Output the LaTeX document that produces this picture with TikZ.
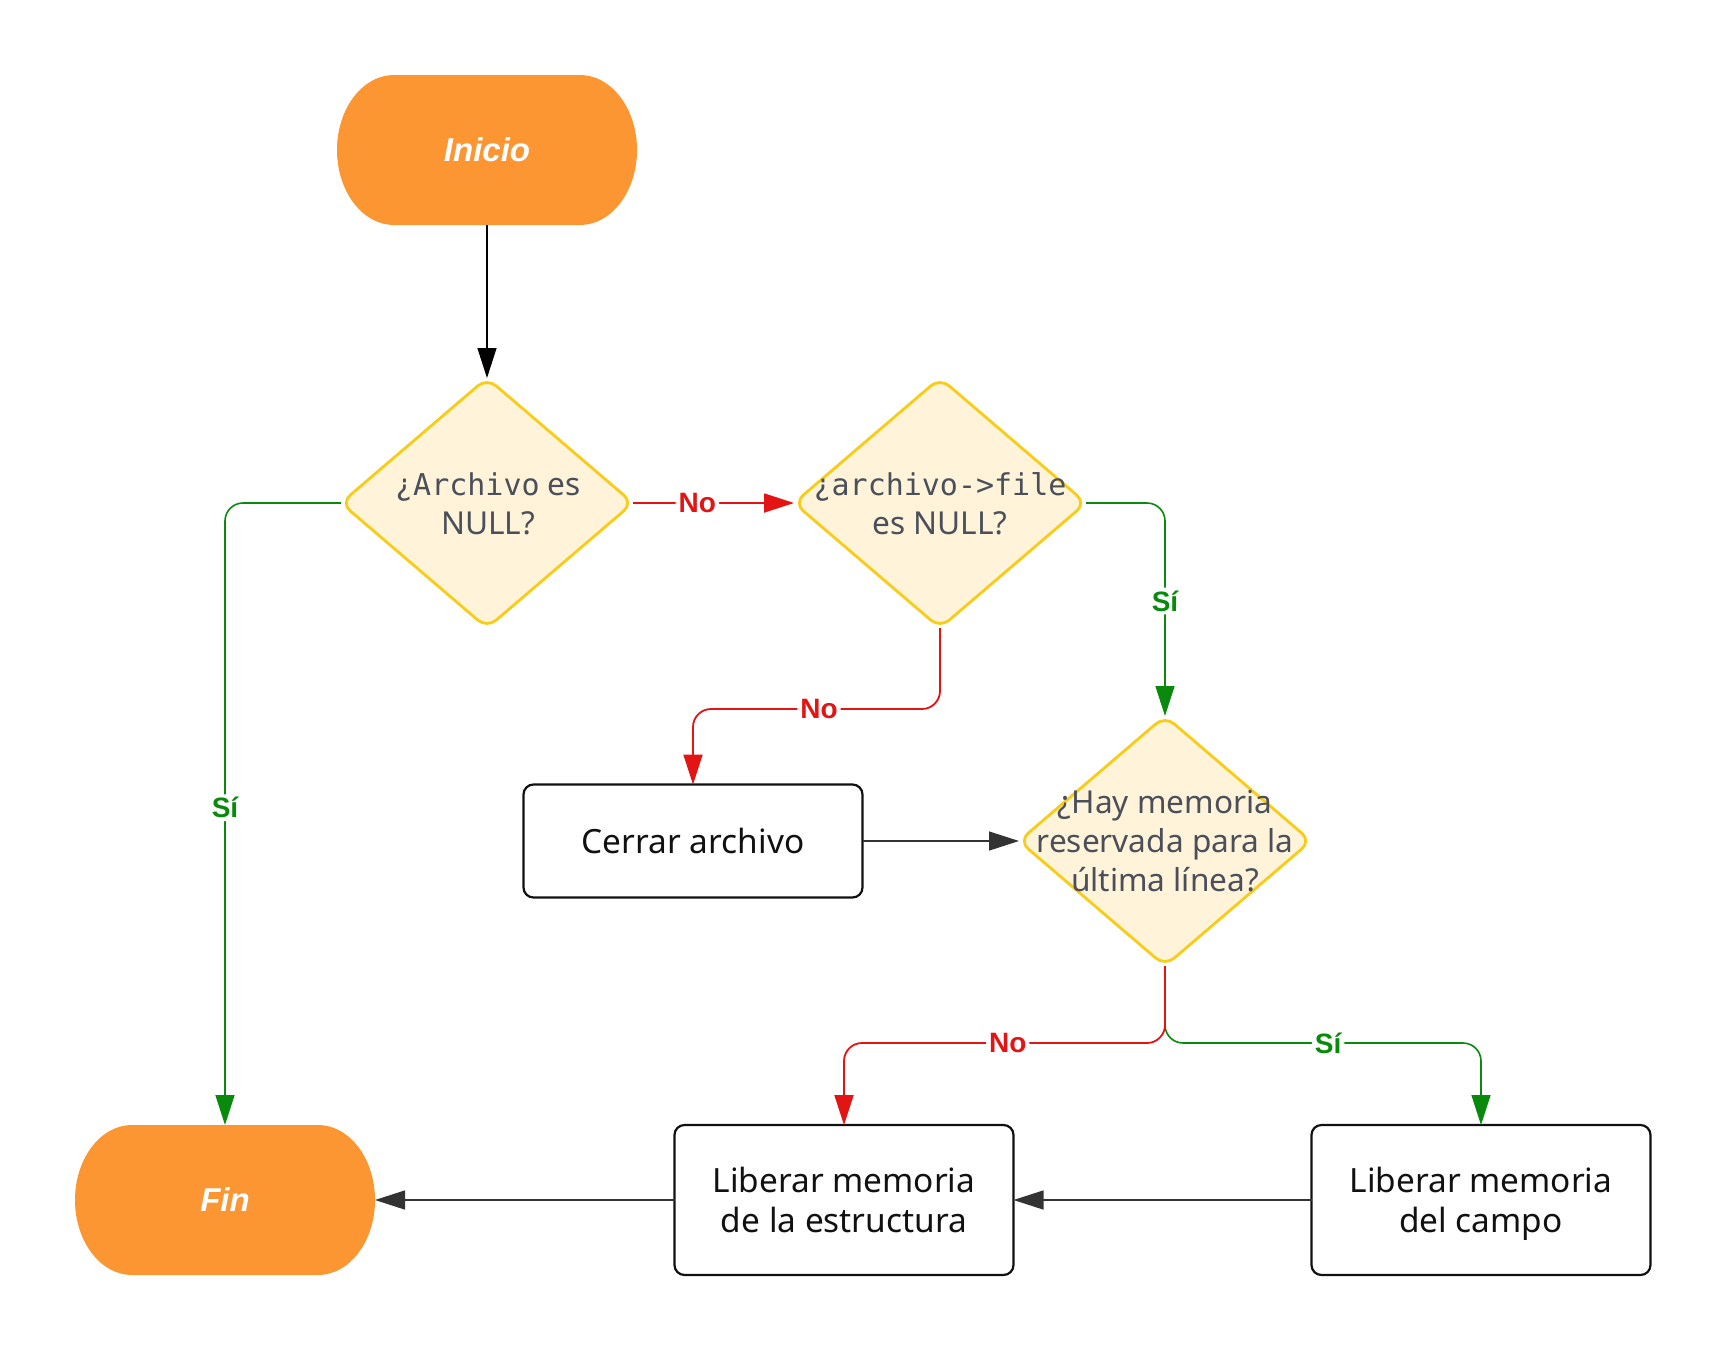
\documentclass[tikz,border=0pt]{standalone}
\usepackage{fontspec}
\setmainfont{Noto Sans}
\newfontfamily\monof{DejaVu Sans Mono}
\newfontfamily\boldf{Liberation Sans}
\usetikzlibrary{arrows.meta,shapes.geometric,calc}
\definecolor{termfill}{HTML}{FB9633}
\definecolor{dfill}{HTML}{FFF3DA}
\definecolor{dline}{HTML}{F8CC17}
\definecolor{myred}{HTML}{E31414}
\definecolor{mygreen}{HTML}{098A0C}
\definecolor{dtext}{HTML}{4A4F5A}
\definecolor{darkline}{HTML}{333333}
\definecolor{boxline}{HTML}{111111}
\pgfdeclarelayer{bg}
\pgfsetlayers{bg,main}
\begin{document}
\begin{tikzpicture}[x=0.5pt,y=-0.5pt,
  term/.style={rectangle, minimum width=150pt, minimum height=75pt, inner sep=0pt, outer sep=0pt,
    font=\boldf\fontsize{16.5}{19}\selectfont\bfseries\itshape, text=white},
  decision/.style={diamond, draw=dline, fill=dfill, line width=1.4pt, rounded corners=6pt,
    minimum width=146pt, minimum height=125pt, inner sep=0pt, outer sep=0pt},
  dtxt/.style={align=center, text=dtext, font=\fontsize{15.8}{19.3}\selectfont, inner sep=0pt},
  procbox/.style={rectangle, draw=boxline, fill=white, line width=1.1pt, rounded corners=5pt,
    minimum width=169.5pt, align=center, font=\fontsize{16.7}{20}\selectfont, text=boxline, inner sep=0pt, outer sep=0pt},
  conn/.style={line width=0.65pt, -{Triangle[length=15pt,width=9.5pt]}},
  cred/.style={conn, draw=myred, line width=0.9pt, rounded corners=9pt, -{Triangle[length=15pt,width=9.5pt,fill=myred]}},
  cgreen/.style={conn, draw=mygreen, line width=0.8pt, rounded corners=9pt, -{Triangle[length=15pt,width=9.5pt,fill=mygreen]}},
  lbl/.style={fill=white, inner sep=1.5pt, font=\boldf\fontsize{14}{16}\selectfont\bfseries},
]
\useasboundingbox (0,0) rectangle (1725,1350);

% terminals
\node[term] (inicio) at (487,150) {Inicio};
\node[term] (fin) at (225,1200) {Fin};
\begin{pgfonlayer}{bg}
\fill[white] (0,0) rectangle (1725,1350);
\foreach \t in {inicio,fin}{
  \fill[termfill] ($(\t.north west)+(57,0)$) -- ($(\t.north east)+(-57,0)$)
     arc[start angle=90,end angle=-90,x radius=28.5pt,y radius=37.5pt]
     -- ($(\t.south west)+(57,0)$)
     arc[start angle=-90,end angle=-270,x radius=28.5pt,y radius=37.5pt] -- cycle;
}
\end{pgfonlayer}

% decisions
\node[decision] (d1) at (487,503) {};
\node[dtxt] (d1t) at (488,504) {{\monof\fontsize{15}{19.3}\selectfont ¿Archivo} es\\NULL?};
\node[decision] (d2) at (940,503) {};
\node[dtxt] (d2t) at (940,504) {{\monof\fontsize{15}{19.3}\selectfont ¿archivo->file}\\es NULL?};
\node[decision] (d3) at (1165,841) {};
\node[dtxt] (d3t) at (1165,841) {¿Hay memoria\\reservada para la\\última línea?};

% process boxes
\node[procbox, minimum height=56.5pt] (cerrar) at (693,841) {Cerrar archivo};
\node[procbox, minimum height=75pt] (lest) at (844,1200) {Liberar memoria\\de la estructura};
\node[procbox, minimum height=75pt] (lcamp) at (1481,1200) {Liberar memoria\\\smash{del campo}};

% connectors
\draw[conn, draw=black, -{Triangle[length=15pt,width=9.5pt,fill=black]}] (inicio.south) -- (d1.north);
\draw[cred] (d1.east) -- node[lbl, text=myred, pos=0.4] {No} (d2.west);
\draw[cgreen] (d1.west) -| node[lbl, text=mygreen, pos=0.745] {Sí} (fin.north);
\draw[cgreen] (d2.east) -| node[lbl, text=mygreen, pos=0.73] {Sí} (d3.north);
\draw[cred] (d2.south) -- ++(0,81) -| node[lbl, text=myred, pos=0.245] {No} (cerrar.north);
\draw[conn, draw=darkline, -{Triangle[length=15pt,width=9.5pt,fill=darkline]}] (cerrar.east) -- (d3.west);
\draw[cgreen] (d3.south) -- ++(0,77) -| node[lbl, text=mygreen, pos=0.258] {Sí} (lcamp.north);
\draw[cred] (d3.south) -- ++(0,77) -| node[lbl, text=myred, pos=0.245] {No} (lest.north);
\draw[conn, draw=darkline, -{Triangle[length=15pt,width=9.5pt,fill=darkline]}] (lcamp.west) -- (lest.east);
\draw[conn, draw=darkline, -{Triangle[length=15pt,width=9.5pt,fill=darkline]}] (lest.west) -- (fin.east);
\end{tikzpicture}
\end{document}
